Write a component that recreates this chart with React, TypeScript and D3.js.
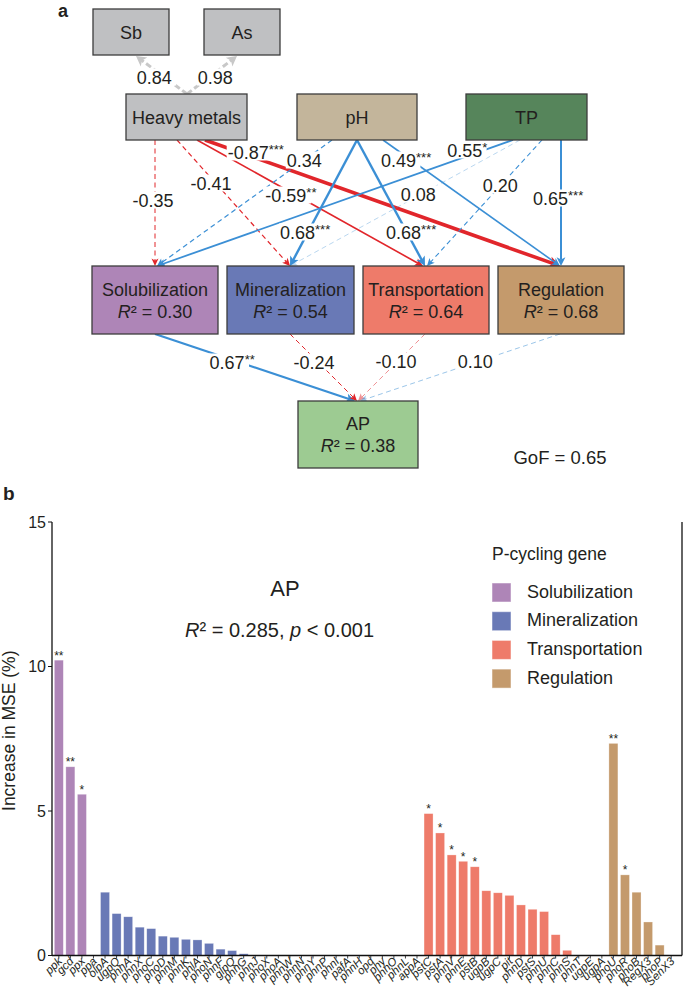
import React from "react";
import * as d3 from "d3";

// ---------- Panel b data ----------
const solGenes = ["ppk", "gcd", "ppx", "ppa"];
const solValues = [10.22, 6.53, 5.58, 0];
const solStars = ["**", "**", "*", ""];

const minGenes = ["olpA", "ugpQ", "phnA", "phnX", "phoC", "phoD", "phnM", "phnK", "phlA", "phoN", "phnF", "glpQ", "phnG", "phnJ", "phoX", "phoA", "phnW", "phnN", "phnY", "phnP", "phnI", "pafA", "phnH", "opd", "phy", "phnO", "phnL", "appA"];
const minValues = [2.19, 1.45, 1.34, 0.98, 0.93, 0.67, 0.63, 0.56, 0.54, 0.42, 0.22, 0.17, 0.06, 0, 0, 0, 0, 0, 0, 0, 0, 0, 0, 0, 0, 0, 0, 0];

const transGenes = ["pstC", "pstA", "phnV", "phnE", "pstB", "ugpB", "ugpC", "pit", "phnD", "pstS", "phnU", "phnC", "phnS", "phnT", "ugpE", "ugpA"];
const transValues = [4.91, 4.24, 3.48, 3.26, 3.07, 2.24, 2.17, 2.08, 1.75, 1.6, 1.52, 0.72, 0.18, 0, 0, 0];
const transStars = ["*", "*", "*", "*", "*", "", "", "", "", "", "", "", "", "", "", ""];

const regGenes = ["phoU", "phoR", "phoB", "RegX3", "phoP", "SenX3"];
const regValues = [7.34, 2.79, 2.19, 1.16, 0.36, 0];
const regStars = ["**", "*", "", "", "", ""];

const groupNames = ["Solubilization", "Mineralization", "Transportation", "Regulation"];
const yTicks = [0, 5, 10, 15];

// ---------- Panel a data ----------
const nodeNames = ["Sb", "As", "Heavy metals", "pH", "TP", "Solubilization", "Mineralization", "Transportation", "Regulation", "AP"];
const nodeR2 = ["", "", "", "", "", "0.30", "0.54", "0.64", "0.68", "0.38"];

const pathFrom = ["Heavy metals", "Heavy metals", "Heavy metals", "Heavy metals", "pH", "pH", "pH", "pH", "TP", "TP", "TP", "TP", "Solubilization", "Mineralization", "Transportation", "Regulation", "Heavy metals", "Heavy metals"];
const pathTo = ["Solubilization", "Mineralization", "Transportation", "Regulation", "Solubilization", "Mineralization", "Transportation", "Regulation", "Solubilization", "Mineralization", "Transportation", "Regulation", "AP", "AP", "AP", "AP", "Sb", "As"];
const pathCoef = [-0.35, -0.41, -0.59, -0.87, 0.34, 0.68, 0.68, 0.49, 0.55, 0.08, 0.2, 0.65, 0.67, -0.24, -0.1, 0.1, 0.84, 0.98];
const pathSig = ["", "", "**", "***", "", "***", "***", "***", "*", "", "", "***", "**", "", "", "", "", ""];
const gofText = "GoF = 0.65";

// ---------- Layout / style (not data) ----------
const FONT = "'Liberation Sans', Arial, Helvetica, sans-serif";
const TXT = "#231f20";
const groupColors = ["#ae85b7", "#6979b6", "#ee7b6a", "#c49a6c"];

const boxLayout: Record<string, { x: number; y: number; w: number; h: number; fill: string }> = {
  Sb: { x: 93, y: 9, w: 76, h: 46, fill: "#bfc0c2" },
  As: { x: 204, y: 9, w: 76, h: 46, fill: "#bfc0c2" },
  "Heavy metals": { x: 126, y: 94, w: 121, h: 46, fill: "#bfc0c2" },
  pH: { x: 297, y: 94, w: 120, h: 46, fill: "#c3b59b" },
  TP: { x: 466, y: 94, w: 121, h: 46, fill: "#56855b" },
  Solubilization: { x: 92, y: 266, w: 126, h: 68, fill: "#ae85b7" },
  Mineralization: { x: 227, y: 266, w: 127, h: 68, fill: "#6979b6" },
  Transportation: { x: 363, y: 266, w: 126, h: 68, fill: "#ee7b6a" },
  Regulation: { x: 498, y: 266, w: 126, h: 68, fill: "#c49a6c" },
  AP: { x: 298, y: 401, w: 120, h: 67, fill: "#9dcb92" },
};

const pathStart = [[155, 140], [177, 140], [197, 140], [205, 140], [332, 140], [357, 140], [357, 140], [383, 140], [513, 140], [520, 140], [542, 140], [561, 140], [155, 334], [290, 334], [425, 334], [560, 334], [187, 94], [187, 94]];
const pathEnd = [[155, 266], [290, 266], [423, 266], [560, 266], [157, 266], [290, 266], [425, 266], [560, 266], [157, 266], [290, 266], [427, 266], [561, 266], [355, 401], [357, 401], [358, 401], [360, 401], [136, 56], [237, 56]];
const labelPos = [[155, 200], [213, 183], [293, 195], [258, 152], [306, 160], [307, 232], [413, 232], [408, 160], [469, 150], [420, 194], [502, 185], [560, 198], [234, 362], [316, 362], [398, 361], [477, 361], [156, 77], [217, 77]];
const pathWidth = [1, 1.2, 1.6, 3.6, 1.2, 2.4, 2.4, 1.6, 1.8, 1, 1.1, 2, 2.2, 1, 1, 1, 3, 3];
const pathOpacity = [1, 1, 1, 1, 1, 1, 1, 1, 1, 0.35, 1, 1, 1, 1, 0.5, 0.5, 1, 1];

const RED = "#e1262b";
const BLUE = "#3b8fd5";
const GRAY = "#c8c8c8";

function arrowHead(x1: number, y1: number, x2: number, y2: number, len: number, half: number) {
  const dx = x2 - x1, dy = y2 - y1;
  const L = Math.hypot(dx, dy);
  const ux = dx / L, uy = dy / L;
  const bx = x2 - ux * len, by = y2 - uy * len;
  const px = -uy, py = ux;
  const pts = [
    [x2, y2],
    [bx + px * half, by + py * half],
    [x2 - ux * len * 0.75, y2 - uy * len * 0.75],
    [bx - px * half, by - py * half],
  ];
  return { points: pts.map((p) => p.join(",")).join(" "), bx: x2 - ux * len * 0.7, by: y2 - uy * len * 0.7 };
}

function fmt(v: number) {
  return d3.format(".2f")(v).replace("−", "-");
}

export default function App() {
  // ----- Panel b scales -----
  const genes = [...solGenes, ...minGenes, ...transGenes, ...regGenes];
  const values = [...solValues, ...minValues, ...transValues, ...regValues];
  const stars = [...solStars, ...minGenes.map(() => ""), ...transStars, ...regStars];
  const groups = [
    ...solGenes.map(() => 0),
    ...minGenes.map(() => 1),
    ...transGenes.map(() => 2),
    ...regGenes.map(() => 3),
  ];

  const x = d3.scaleBand<string>().domain(genes).range([52, 678]).paddingInner(0.22).paddingOuter(0.2);
  const y = d3.scaleLinear().domain([0, 15]).range([955.5, 522]);
  const y0 = y(0);
  const axisLeft = 52;
  const axisRight = 682;

  const nodeIndex = (n: string) => nodeNames.indexOf(n);

  return (
    <svg
      width={685}
      height={992}
      style={{ position: "absolute", left: 0, top: 0, background: "#fff" }}
      fontFamily={FONT}
    >
      <rect x={0} y={0} width={685} height={992} fill="#fff" />
      {/* ===== Panel a ===== */}
      <text x={58} y={17} fontSize={18} fontWeight="bold" fill={TXT}>a</text>

      {/* paths */}
      {pathFrom.map((f, i) => {
        const [x1, y1] = pathStart[i];
        const [x2, y2] = pathEnd[i];
        const isLoading = pathTo[i] === "Sb" || pathTo[i] === "As";
        const color = isLoading ? GRAY : pathCoef[i] < 0 ? RED : BLUE;
        const dashed = isLoading || pathSig[i] === "";
        const w = pathWidth[i];
        const len = isLoading ? 10 : 6 + 1.4 * w;
        const half = isLoading ? 5.5 : 2.6 + 0.9 * w;
        const ah = arrowHead(x1, y1, x2, y2, len, half);
        return (
          <g key={"p" + i} opacity={pathOpacity[i]}>
            <line
              x1={x1}
              y1={y1}
              x2={ah.bx}
              y2={ah.by}
              stroke={color}
              strokeWidth={w}
              strokeDasharray={dashed ? (isLoading ? "6,3" : "5,3.5") : undefined}
            />
            <polygon points={ah.points} fill={color} />
          </g>
        );
      })}

      {/* path labels */}
      {pathFrom.map((f, i) => {
        const [lx, ly] = labelPos[i];
        const num = fmt(pathCoef[i]);
        const numW = num.length * 9.6 - (num.includes("-") ? 3 : 0);
        const starW = pathSig[i].length * 5.2;
        const total = numW + starW;
        const left = lx - total / 2;
        return (
          <g key={"l" + i}>
            <rect x={left - 1} y={ly - 8.5} width={numW + 2} height={17} fill="#fff" />
            <text x={left} y={ly + 6.5} fontSize={18} fill={TXT}>
              {num}
              {pathSig[i] && (
                <tspan fontSize={13} dy={-5}>{pathSig[i]}</tspan>
              )}
            </text>
          </g>
        );
      })}

      {/* boxes */}
      {nodeNames.map((n, i) => {
        const b = boxLayout[n];
        const cx = b.x + b.w / 2;
        const cy = b.y + b.h / 2;
        const r2 = nodeR2[nodeIndex(n)];
        return (
          <g key={"b" + n}>
            <rect x={b.x} y={b.y} width={b.w} height={b.h} fill={b.fill} stroke="#3c3c3c" strokeWidth={1.3} />
            {r2 ? (
              <>
                <text x={cx} y={cy - 11 + 6.5} textAnchor="middle" fontSize={18} fill={TXT}>{n}</text>
                <text x={cx} y={cy + 11 + 6.5} textAnchor="middle" fontSize={18} fill={TXT}>
                  <tspan fontStyle="italic">R</tspan>² = {r2}
                </text>
              </>
            ) : (
              <text x={cx} y={cy + 6.5} textAnchor="middle" fontSize={18} fill={TXT}>{n}</text>
            )}
          </g>
        );
      })}

      <text x={560} y={464} textAnchor="middle" fontSize={18.5} fill={TXT}>{gofText}</text>

      {/* ===== Panel b ===== */}
      <text x={3} y={500} fontSize={19} fontWeight="bold" fill={TXT}>b</text>

      {/* bars */}
      {genes.map((g, i) => {
        const v = values[i];
        const bx = x(g)!;
        return (
          <g key={"bar" + g}>
            {v > 0 && (
              <rect
                x={bx}
                y={y(v)}
                width={x.bandwidth()}
                height={y0 - y(v)}
                fill={groupColors[groups[i]]}
                stroke="#fff"
                strokeOpacity={0.5}
                strokeWidth={0.6}
              />
            )}
            {stars[i] && (
              <text x={bx + x.bandwidth() / 2} y={y(v) - 0.5} textAnchor="middle" fontSize={12} fill={TXT}>
                {stars[i]}
              </text>
            )}
          </g>
        );
      })}

      {/* axes */}
      <line x1={axisLeft} y1={y(15)} x2={axisLeft} y2={y0} stroke="#111" strokeWidth={1.3} />
      <line x1={axisLeft} y1={y0} x2={axisRight} y2={y0} stroke="#111" strokeWidth={1.3} />
      <line x1={axisRight} y1={y(15)} x2={axisRight} y2={y0} stroke="#111" strokeWidth={1.3} />
      {yTicks.map((t) => (
        <g key={"yt" + t}>
          <line x1={axisLeft - 4} x2={axisLeft} y1={y(t)} y2={y(t)} stroke="#111" strokeWidth={1} />
          <text x={axisLeft - 6} y={y(t) + 5.8} textAnchor="end" fontSize={16} fill={TXT}>{t}</text>
        </g>
      ))}
      {genes.map((g) => {
        const cx = x(g)! + x.bandwidth() / 2;
        return (
          <g key={"xt" + g}>
            <line x1={cx} x2={cx} y1={y0} y2={y0 + 3} stroke="#111" strokeWidth={0.8} />
            <text
              transform={`translate(${cx + 4},${y0 + 6.5}) rotate(-45)`}
              textAnchor="end"
              fontSize={11.5}
              fontStyle="italic"
              fill={TXT}
            >
              {g}
            </text>
          </g>
        );
      })}
      <text
        transform={`translate(15,${(y(15) + y0) / 2 - 8}) rotate(-90)`}
        textAnchor="middle"
        fontSize={17.5}
        fill={TXT}
      >
        Increase in MSE (%)
      </text>

      {/* in-panel titles */}
      <text x={285} y={596} textAnchor="middle" fontSize={22} fill={TXT}>AP</text>
      <text x={185} y={637} fontSize={20} fill={TXT}>
        <tspan fontStyle="italic">R</tspan>² = 0.285, <tspan fontStyle="italic">p</tspan> &lt; 0.001
      </text>

      {/* legend */}
      <text x={492} y={560} fontSize={17.5} fill={TXT}>P-cycling gene</text>
      {groupNames.map((g, i) => (
        <g key={"lg" + g}>
          <rect x={492} y={583 + i * 28.7} width={19} height={19} fill={groupColors[i]} stroke="#fff" strokeOpacity={0.5} />
          <text x={527} y={597.5 + i * 28.7} fontSize={18} fill={TXT}>{g}</text>
        </g>
      ))}
    </svg>
  );
}
